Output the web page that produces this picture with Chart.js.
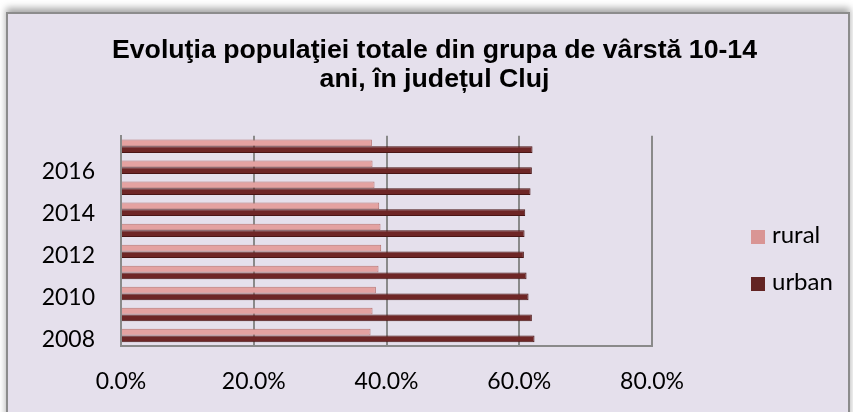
<!DOCTYPE html>
<html>
<head>
<meta charset="utf-8">
<script src="https://cdn.jsdelivr.net/npm/chart.js@4.4.1/dist/chart.umd.min.js"></script>
<style>
    body { margin: 0; background: #fff; }
    #frame {
        position: absolute; left: 6px; top: 12px; width: 840px; height: 420px;
        background: #E5E0EC; border: 2px solid #8c8c8c;
        box-shadow: 0 -4px 7px rgba(0, 0, 0, 0.35);
    }
    #chart { position: absolute; left: 0; top: 0; }
    #legend { position: absolute; left: 751px; top: 220px; font: 24px Lato, sans-serif; color: #000; }
    #legend .item { height: 47px; line-height: 28px; white-space: nowrap; }
    #legend .box { display: inline-block; width: 14px; height: 14px; margin-right: 7px; vertical-align: -1px; }
</style>
</head>
<body>
<div id="frame"></div>
<canvas id="chart" width="853" height="412"></canvas>
<div id="legend"></div>
<script>
// years, bottom to top
const years = ["2008", "2009", "2010", "2011", "2012", "2013", "2014", "2015", "2016", "2017"];
// share of the 10-14 age group, percent
const rural = [37.6, 37.9, 38.4, 38.8, 39.2, 39.1, 38.9, 38.2, 37.9, 37.8];
const urban = [62.3, 61.9, 61.4, 61.1, 60.7, 60.8, 60.9, 61.7, 61.9, 62.0];
const xTicks = [0, 20, 40, 60, 80];

const titleLines = ["Evoluţia populaţiei totale din grupa de vârstă 10-14", "ani, în județul Cluj"];

const gridColor = "#8a8a8a";
const tickFont = { family: "Lato, sans-serif", size: 23 };

const ctx = document.getElementById("chart").getContext("2d");

const chart = new Chart(ctx, {
    type: "bar",
    data: {
        labels: years,
        datasets: [
            {
                label: "rural",
                data: rural,
                backgroundColor: "#E4A2A1",
                borderColor: "#B97473",
                borderWidth: 1,
                legendColor: "#D99594"
            },
            {
                label: "urban",
                data: urban,
                backgroundColor: "#6E2626",
                borderColor: "#4A1515",
                borderWidth: 1,
                legendColor: "#632423"
            }
        ]
    },
    options: {
        indexAxis: "y",
        responsive: false,
        animation: false,
        categoryPercentage: 0.64,
        barPercentage: 1,
        layout: { padding: { left: 16, right: 0, top: 0, bottom: 0 } },
        plugins: {
            legend: { display: false },
            tooltip: { enabled: false },
            title: {
                display: true,
                text: titleLines,
                color: "#000",
                font: { family: "'Liberation Sans', Arial, sans-serif", size: 26.7, weight: "bold", lineHeight: 1.1 },
                padding: { top: 36, bottom: 41 }
            }
        },
        scales: {
            x: {
                min: 0,
                max: 80,
                afterBuildTicks: s => { s.ticks = xTicks.map(v => ({ value: v })); },
                afterFit: s => { s.height = 66; },
                grid: { color: gridColor, lineWidth: 2, drawTicks: false },
                border: { display: true, color: gridColor, width: 2 },
                ticks: {
                    color: "#000",
                    font: tickFont,
                    padding: 22,
                    callback: v => v.toFixed(1) + "%"
                }
            },
            y: {
                reverse: true,
                afterFit: s => { s.width = 105; },
                grid: { display: false, drawTicks: false },
                border: { display: true, color: gridColor, width: 2 },
                ticks: {
                    color: "#000",
                    font: tickFont,
                    padding: 26,
                    labelOffset: 4,
                    autoSkip: false,
                    callback: function (v, i) { return i % 2 === 0 ? this.getLabelForValue(v) : ""; }
                }
            },
            // empty space on the right where the legend sits
            legendSpace: {
                type: "linear",
                position: "right",
                grid: { display: false, drawTicks: false },
                border: { display: false },
                ticks: { display: false },
                afterFit: s => { s.width = 201; }
            }
        }
    }
});

const legend = document.getElementById("legend");
chart.data.datasets.forEach(ds => {
    const item = document.createElement("div");
    item.className = "item";
    item.innerHTML = '<span class="box" style="background:' + ds.legendColor + '"></span>' + ds.label;
    legend.appendChild(item);
});
</script>
</body>
</html>
